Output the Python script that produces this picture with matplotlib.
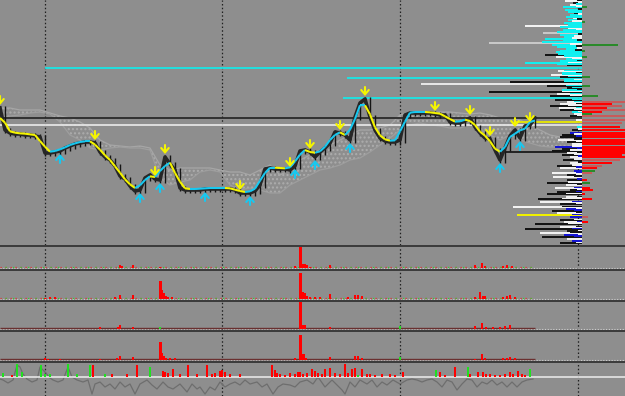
import numpy as np
import pandas as pd
import matplotlib
matplotlib.use("Agg")
import matplotlib.pyplot as plt
from matplotlib.collections import LineCollection
from matplotlib.patches import Rectangle

plt.rcParams["hatch.linewidth"] = 1.0

# ---------------- data ----------------
bar_step = 5  # one close every 5 bars
close = [142, 120, 117, 116, 116, 115, 115, 114, 113, 97,
         97, 98, 99, 102, 104, 106, 107, 108, 108, 107,
         98, 93, 90, 84, 74, 71, 64, 59, 60, 72,
         75, 71, 70, 93, 86, 80, 62, 60, 60, 60,
         60, 61, 61, 61, 61, 61, 61, 60, 57, 57,
         57, 59, 65, 81, 82, 81, 81, 81, 80, 84,
         99, 100, 98, 93, 98, 102, 107, 118, 117, 115,
         110, 133, 147, 151, 133, 120, 112, 109, 108, 108,
         110, 135, 137, 137, 137, 137, 137, 136, 135, 135,
         128, 127, 127, 129, 132, 123, 117, 112, 111, 100,
         90, 102, 114, 120, 112, 124, 125, 132]

cloud_step = 10
cloud_a = [142, 142, 140, 140, 140, 137, 134, 132, 128, 122, 110, 105, 104, 103, 104, 102,
           85, 80, 82, 82, 82, 82, 80, 78, 78, 75, 80, 85, 75, 80, 90, 95, 100, 105, 110,
           115, 120, 120, 122, 125, 135, 138, 138, 137, 138, 138, 137, 136, 137, 135, 132,
           132, 130, 125, 120, 115, 113, 112]
cloud_b = [132, 134, 135, 137, 138, 136, 128, 115, 110, 102, 100, 102, 103, 102, 102, 100,
           72, 65, 68, 70, 78, 80, 78, 65, 60, 62, 60, 57, 57, 65, 70, 75, 80, 82, 85,
           90, 92, 98, 105, 112, 120, 125, 127, 125, 124, 122, 122, 125, 120, 115, 110,
           115, 110, 107, 104, 103, 103, 104]

sell_signals = [0, 19, 31, 33, 48, 58, 62, 68, 73, 87, 94, 98, 103, 106]
buy_signals = [12, 28, 32, 41, 50, 59, 63, 70, 100, 104]

level_price = [182, 172, 166, 152, 132, 128, 125, 98]
level_start = [45, 347, 421, 343, 0, 515, 0, 502]
level_color = ["#19e6e6", "#19e6e6", "#f0f0f0", "#19e6e6", "#2a2a2a", "#e8e800", "#e4e4e4", "#1a1a1a"]

session_breaks = [45, 222, 400, 578]

# volume profile
prof_level = [249, 247, 245, 243, 240, 237, 235, 232, 230, 228,
              226, 224, 222, 220, 217, 215, 213, 211, 209, 207,
              205, 203, 201, 199, 197, 195, 193, 191, 189, 187,
              185, 179, 177, 175, 173, 170, 168, 164, 162, 160,
              158, 156, 154, 150, 148, 146, 144, 142, 140, 138,
              136, 134, 130, 127, 123, 120, 117, 115, 113, 110,
              108, 106, 103, 101, 99, 97, 95, 93, 90, 87,
              84, 82, 79, 77, 75, 73, 70, 67, 65, 62,
              60, 58, 56, 53, 51, 48, 46, 43, 41, 39,
              37, 35, 33, 30, 28, 26, 23, 21, 19, 17,
              15, 13, 11, 9, 7]
prof_left = [17, 9, 12, 19, 17, 8, 12, 9, 14, 7,
             6, 57, 14, 19, 39, 22, 18, 37, 19, 93,
             30, 25, 16, 22, 12, 37, 26, 16, 22, 57,
             15, 24, 20, 31, 22, 18, 72, 35, 15, 20,
             93, 25, 32, 27, 15, 22, 32, 23, 22, 10,
             8, 12, 6, 0, 5, 10, 12, 20, 22, 24,
             15, 10, 27, 20, 30, 15, 20, 12, 19, 12,
             25, 22, 8, 30, 15, 29, 15, 35, 16, 27,
             12, 25, 35, 16, 44, 42, 22, 69, 16, 30,
             25, 65, 12, 22, 18, 47, 22, 57, 15, 42,
             18, 40, 15, 10, 22]
prof_left_col = ("wkwcckcwcc" "kwwcLccccL" "ccccwkwccc" "kwcwkckkkc" "kwkkwwkwkc"
                 "wkwwckbkkw" "kwbkkwkwkw" "kwbwkwkkww" "kkkwkwkwbk" "wybkwkwkkw" "bkwbk")
prof_inner = [5, 4, 6, 6, 4, 14, 4, 16, 5, 10,
              18, 14, 22, 6, 25, 4, 8, 10, 5, 40,
              12, 6, 5, 7, 26, 24, 18, 10, 5, 14,
              25, 18, 6, 20, 14, 8, 18, 16, 10, 5,
              20, 12, 12, 10, 8, 6, 14, 6, 8, 4,
              0, 5, 0, 0, 0, 4, 0, 8, 6, 8,
              6, 0, 10, 5, 12, 5, 8, 4, 8, 4,
              10, 6, 0, 6, 6, 8, 5, 14, 5, 8,
              5, 6, 16, 5, 20, 10, 6, 20, 6, 8,
              6, 10, 0, 8, 5, 14, 6, 10, 4, 12,
              4, 8, 0, 0, 6]
prof_inner_col = ("kwcwkcwckw" "cccwckwwkc" "wkwkcccwkw" "cckccwccck" "wcwcckwcww"
                  ".w...w.wbk" "w.wbwkwbwk" "wb.bwkbwkb" "wbwkwbwkwb" "kb.wbwkbwk" "wb..w")
prof_right = [0, 0, 0, 5, 0, 0, 0, 0, 0, 3,
              0, 0, 0, 0, 0, 0, 0, 0, 0, 0,
              36, 0, 0, 3, 0, 0, 5, 0, 0, 0,
              0, 0, 0, 0, 8, 0, 0, 8, 0, 0,
              0, 0, 16, 0, 43, 30, 40, 25, 43, 20,
              10, 43, 43, 40, 38, 43, 43, 43, 43, 43,
              43, 43, 43, 43, 43, 43, 40, 43, 38, 30,
              20, 15, 13, 10, 0, 0, 5, 8, 0, 8,
              11, 0, 3, 0, 10, 0, 0, 0, 0, 0,
              0, 0, 6, 0, 6, 0, 0, 0, 0, 0,
              0, 0, 0, 0, 0]
prof_right_col = ("...G.....G" ".........." "G..G..G..." "....G..G.." "..G.RrRrRr"
                  "GRRRrrrrrr" "rrrrrrrrRr" "RrGR..rG.r" "r.r.r....." "..R.r....." ".....")
prof_anchor = 582

# sub-panel histograms (bar, height)
p1_x = [120, 122, 133, 160, 295, 300, 301, 303, 305, 307, 310, 330, 475, 482, 485, 503, 507, 512]
p1_h = [3, 2, 3, 1, 2, 21, 21, 4, 4, 2.5, 1, 3, 3, 5, 2, 2, 3, 2]
p2_x = [45, 50, 55, 115, 120, 133, 160, 161, 162, 164, 166, 168, 172, 300, 301, 303, 305, 307,
        310, 315, 320, 330, 348, 355, 358, 362, 475, 480, 483, 485, 503, 507, 510, 515]
p2_h = [1, 1.5, 1.5, 2, 3.7, 3.7, 17.7, 17.7, 8.7, 5.3, 3, 2, 1.5, 26, 26, 6.3, 6, 3,
        2, 1.5, 1.5, 5, 2, 3.7, 3.7, 3, 2, 7, 3, 3, 2, 3, 3.7, 2]
p3_x = [100, 118, 120, 133, 300, 301, 303, 305, 330, 475, 482, 486, 493, 500, 505, 510]
p3_h = [1.5, 2, 3.3, 2, 26.7, 26.7, 3.3, 3.3, 2, 3, 6, 2, 1.5, 2, 2.5, 3.3]
p4_x = [45, 48, 60, 100, 117, 120, 133, 160, 161, 162, 164, 166, 170, 175, 295, 300, 301, 302,
        304, 306, 330, 355, 358, 362, 475, 482, 485, 503, 507, 510, 515]
p4_h = [1.5, 1, 1, 1, 2, 3.3, 2.3, 17.3, 17.3, 7, 4, 2, 1.5, 1.5, 2, 25, 25, 5.7,
        6, 2, 3, 4, 4, 2, 1, 5.3, 2, 1.5, 2, 3, 2]
green_marks_x = [160, 400]
green_marks_h = [2, 2.5]

# bottom oscillator panel
osc_up_x = [3, 17, 22, 41, 45, 50, 68, 77, 90, 105, 150, 358, 436, 468, 530]
osc_up_h = [4, 13, 5, 12, 3, 3, 13, 3, 12, 3, 10, 2, 7, 10, 8]
osc_dn_x = [12, 93, 112, 127, 137, 163, 165, 168, 173, 180, 188, 197, 207, 212, 215, 220, 222, 225,
            230, 240, 272, 275, 277, 280, 285, 290, 295, 298, 300, 303, 307, 312, 315, 318, 322,
            325, 330, 335, 340, 345, 348, 352, 355, 362, 367, 370, 375, 382, 390, 395, 403, 440,
            445, 455, 470, 478, 483, 486, 490, 495, 500, 505, 510, 513, 518, 522, 525]
osc_dn_h = [2, 12, 3, 3, 12, 6, 5, 4, 8, 3, 12, 3, 12, 3, 4, 6, 7, 5,
            3, 3, 12, 7, 4, 3, 2, 4, 3, 5, 5, 3, 4, 8, 6, 4, 3,
            8, 9, 4, 3, 13, 4, 8, 9, 8, 3, 3, 2, 3, 3, 2, 5, 5,
            2, 10, 3, 5, 5, 3, 3, 2, 2, 3, 5, 3, 6, 3, 2]
sig_x = [0, 3, 8, 13, 17, 20, 23, 27, 32, 37, 40, 45, 50, 53, 58, 63, 68, 72, 77, 83, 88, 92,
         95, 100, 105, 110, 115, 120, 125, 130, 135, 140, 147, 152, 157, 163, 168, 173, 180,
         187, 192, 197, 200, 205, 210, 215, 220, 225, 230, 235, 240, 245, 250, 257, 262, 267,
         273, 278, 283, 290, 295, 300, 307, 313, 318, 325, 332, 337, 342, 345, 350, 355, 360,
         367, 372, 377, 382, 387, 393, 400, 407, 412, 417, 422, 427, 432, 437, 442, 447, 452,
         457, 462, 467, 472, 477, 482, 487, 492, 497, 502, 507, 512, 517, 522, 527, 533]
sig_v = [-2, -3, -6, -3, 12, 10, 3, -2, -5, -3, 10, 5, -1, -3, -5, -3, 10, 0, -3, -5, -3, -17,
         -7, -5, -10, -7, -12, -5, -10, -7, -17, -7, -3, -8, -12, -5, -10, -12, -7,
         -15, -7, -12, -10, -17, -10, -13, -5, -10, -7, -5, -8, -3, -7, -5, -10, -7,
         -17, -10, -7, -8, -10, -5, -3, -7, 0, -10, -3, -8, -13, -17, -5, -10, -3,
         -7, -3, -10, -5, -8, -3, -7, -3, -2, -3, -5, -3, -2, -5, -10, -3, -5,
         -13, -7, -2, -3, -10, -5, -7, -3, -8, -5, -10, -5, -10, -5, -3, -2]

# ---------------- figure ----------------
W, H = 625, 396
BG = "#8e8e8e"
fig = plt.figure(figsize=(W / 100, H / 100), dpi=100, facecolor=BG)

MAIN_BOTTOM = 245
panels_px = [(247, 269), (271, 300), (302, 330), (332, 361), (363, 396)]
separators_px = [245, 269, 300, 330, 361]


def add_px_axes(top, bottom):
    ax = fig.add_axes([0, 1 - bottom / H, 1, (bottom - top) / H])
    ax.set_xlim(0, W)
    ax.axis("off")
    return ax


def session_lines(ax):
    for xb in session_breaks:
        ax.axvline(xb, color="#202020", lw=0.9, ls=(0, (1.2, 1.8)), zorder=1)


# ---- main price panel ----
ax = add_px_axes(0, MAIN_BOTTOM)
ax.set_ylim(5, 250)
session_lines(ax)

xs = np.arange(len(close)) * bar_step
cx = np.arange(len(cloud_a)) * cloud_step
ax.fill_between(cx, cloud_a, cloud_b, facecolor="none", edgecolor="#adadad", hatch="....", lw=0, zorder=2)
ax.plot(cx, cloud_a, color="#a6a6a6", lw=0.9, zorder=2)
ax.plot(cx, cloud_b, color="#9e9e9e", lw=0.9, zorder=2)

for p, s, c in zip(level_price, level_start, level_color):
    ax.hlines(p, s, prof_anchor, color=c, lw=1.3, zorder=3)

# profile
cmap = {"w": "#f2f2f2", "k": "#141414", "c": "#10f0f0", "b": "#1414d2", "y": "#f0f000",
        "L": "#c8c8c8", "r": "#ff0000", "R": "#c85a5a", "G": "#2a8a2a"}
for lev, ln, lc, inn, ic, rn, rc in zip(prof_level, prof_left, prof_left_col, prof_inner,
                                         prof_inner_col, prof_right, prof_right_col):
    if ln > 0:
        ax.barh(lev, -ln, left=prof_anchor, height=2.0, color=cmap[lc], lw=0, zorder=3)
    if inn > 0:
        ax.barh(lev + 0.9, -inn, left=prof_anchor, height=1.2, color=cmap[ic], lw=0, zorder=3)
    if rn > 0:
        ax.barh(lev, rn, left=prof_anchor, height=2.3, color=cmap[rc], lw=0, zorder=3)

# candles approximated by close line with hi-lo wicks
c = np.array(close, dtype=float)
prev = np.r_[c[0], c[:-1]]
hi = np.maximum(prev, c) + 2.5
lo = np.minimum(prev, c) - 2.5
ax.vlines(xs, lo, hi, color="#151515", lw=1.0, zorder=4)
ax.plot(xs, c, color="#262626", lw=2.6, zorder=4)

ma = pd.Series(c).rolling(3, center=True, min_periods=1).mean().to_numpy()
pts = np.column_stack([xs, ma + 1])
segs = np.stack([pts[:-1], pts[1:]], axis=1)
cols = ["#f5f500" if ma[i + 1] < ma[i] else "#18c8f0" for i in range(len(ma) - 1)]
ax.add_collection(LineCollection(segs, colors=cols, linewidths=1.5, zorder=5))

arrow_kw = dict(arrowstyle="->,head_length=0.35,head_width=0.3", lw=1.5,
                mutation_scale=9, shrinkA=0, shrinkB=0)
for i in sell_signals:
    ax.annotate("", xy=(xs[i], c[i] + 3), xytext=(xs[i], c[i] + 12),
                arrowprops=dict(color="#f5f500", **arrow_kw), zorder=6)
for i in buy_signals:
    ax.annotate("", xy=(xs[i], c[i] - 3), xytext=(xs[i], c[i] - 12),
                arrowprops=dict(color="#18c8f0", **arrow_kw), zorder=6)

# ---- histogram panels ----
hist_data = [(p1_x, p1_h), (p2_x, p2_h), (p3_x, p3_h), (p4_x, p4_h)]
for k, ((top, bottom), (hx, hh)) in enumerate(zip(panels_px[:4], hist_data)):
    a = add_px_axes(top, bottom)
    a.set_ylim(-1.3, bottom - top - 1.3)
    session_lines(a)
    a.axhline(0, color="#cfcfcf", lw=0.8, ls=(0, (1, 1.5)), zorder=2)
    if k < 2:
        a.hlines(0.3, 0, 535, color="#e03030", lw=0.9, ls=(0, (1, 3)), zorder=2)
        a.hlines(0.3, 0, 535, color="#30d030", lw=0.9, ls=(2, (1, 5)), zorder=2)
    else:
        a.hlines(0.5, 0, 535, color="#6a3030", lw=1.0, zorder=2)
        a.bar(green_marks_x, green_marks_h, width=2, bottom=0, color="#20e020", lw=0, zorder=3)
    a.bar(hx, hh, width=2, bottom=0, color="#ff0000", lw=0, zorder=3)

# ---- oscillator panel ----
top, bottom = panels_px[4]
a = add_px_axes(top, bottom)
a.set_ylim(-(bottom - 377), 377 - top)
session_lines(a)
a.plot(sig_x, sig_v, color="#6e6e6e", lw=0.9, zorder=2)
a.axhline(0, color="#e6e6e6", lw=1.2, zorder=3)
a.bar(osc_dn_x, osc_dn_h, width=2.2, color="#ff0000", lw=0, zorder=4)
a.bar(osc_up_x, osc_up_h, width=1.6, color="#20e020", lw=0, zorder=4)

# panel separators
for yp in separators_px:
    fig.add_artist(Rectangle((0, 1 - (yp + 2) / H), 1, 2 / H, transform=fig.transFigure,
                             color="#3c3c3c", lw=0, zorder=10))

fig.savefig("out.png", dpi=100, facecolor=BG)
